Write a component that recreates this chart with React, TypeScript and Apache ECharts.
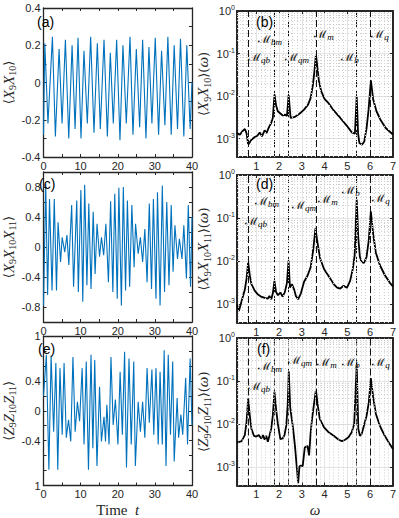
import React, { useEffect, useRef } from 'react';
import * as echarts from 'echarts';

// ---------- time series (t, value) ----------
const SIG_A: [number, number][] = [
  [0, -0.28], [0.35, 0.21], [1.2, -0.22], [2.4, 0.245], [3.2, -0.29], [4.2, 0.18], [5.0, -0.22], [5.9, 0.23],
  [6.8, -0.3], [7.7, 0.2], [8.5, -0.25], [9.3, 0.24], [10.1, -0.3], [10.9, 0.17], [11.8, -0.22], [12.7, 0.245],
  [13.6, -0.27], [14.5, 0.21], [15.3, -0.25], [16.3, 0.23], [17.2, -0.29], [18.0, 0.16], [18.8, -0.22], [19.7, 0.23],
  [20.6, -0.31], [21.4, 0.2], [22.3, -0.22], [23.3, 0.245], [24.1, -0.28], [25.0, 0.18], [25.9, -0.24], [26.7, 0.23],
  [27.6, -0.3], [28.4, 0.19], [29.2, -0.22], [30.1, 0.24], [31.0, -0.28], [31.8, 0.17], [32.7, -0.23], [33.5, 0.245],
  [34.4, -0.28], [35.2, 0.2], [36.1, -0.25], [36.9, 0.235], [37.8, -0.29], [38.6, 0.2], [39.5, -0.25], [40, 0.0],
];

const SIG_C: [number, number][] = [
  [0, -0.78], [0.6, 0.84], [1.11, -0.64], [1.62, 0.64], [2.3, -0.58], [2.9, 0.64], [3.5, -0.58], [3.92, 0.33],
  [4.6, -0.2], [5.03, 0.13], [5.72, -0.07], [6.31, 0.16], [6.82, -0.24], [7.59, 0.56], [8.1, -0.53], [8.96, 0.62],
  [9.38, -0.6], [10.07, 0.76], [10.58, -0.73], [11.09, 0.83], [11.69, -0.51], [12.2, 0.58], [12.8, -0.56], [13.39, 0.47],
  [13.9, -0.36], [14.42, 0.31], [15.1, -0.13], [15.61, 0.13], [16.21, -0.11], [16.8, 0.31], [17.49, -0.47], [18.08, 0.61],
  [18.68, -0.6], [19.19, 0.71], [19.87, -0.69], [20.3, 0.79], [20.98, -0.78], [21.5, 0.8], [22.1, -0.58], [22.6, 0.62],
  [23.2, -0.53], [23.8, 0.56], [24.4, -0.27], [24.8, 0.31], [25.5, -0.09], [26.1, 0.13], [26.7, -0.2], [27.3, 0.24],
  [27.9, -0.47], [28.5, 0.58], [29.1, -0.56], [29.6, 0.64], [30.3, -0.69], [30.7, 0.73], [31.4, -0.78], [32.0, 0.82],
  [32.6, -0.6], [33.2, 0.6], [33.8, -0.51], [34.4, 0.56], [34.9, -0.33], [35.4, 0.29], [36.1, -0.16], [36.6, 0.11],
  [37.3, -0.16], [37.8, 0.29], [38.5, -0.42], [39.0, 0.56], [39.6, -0.53], [40, 0.4],
];

const SIG_E: [number, number][] = [
  [0, 0.2], [0.77, 0.75], [1.45, -0.79], [2.05, 0.74], [2.73, -0.28], [3.33, 0.64], [3.84, -0.79], [4.44, 0.57],
  [5.03, -0.32], [5.54, 0.64], [6.14, -0.36], [6.74, -0.12], [7.34, -0.41], [7.93, 0.72], [8.53, -0.28], [9.13, 0.12],
  [9.72, -0.14], [10.41, 0.57], [10.92, -0.45], [11.52, 0.66], [12.11, -0.79], [12.8, 0.75], [13.3, -0.5], [13.8, 0.68],
  [14.4, -0.74], [15.1, 0.32], [15.6, -0.41], [16.3, -0.08], [16.7, -0.41], [17.06, 0.08], [17.66, -0.45], [18.17, 0.72],
  [18.77, -0.19], [19.36, 0.15], [20.05, -0.45], [20.64, 0.52], [21.24, -0.32], [21.84, 0.79], [22.35, -0.76], [23.03, 0.7],
  [23.63, -0.45], [24.31, 0.66], [24.74, -0.74], [25.5, 0.12], [26.1, -0.28], [26.7, 0.12], [27.3, -0.36], [27.9, 0.57],
  [28.5, -0.16], [29.2, 0.55], [29.7, -0.32], [30.3, 0.57], [30.9, -0.45], [31.4, 0.52], [32.0, -0.45], [32.5, 0.81],
  [33.0, -0.74], [33.6, 0.75], [34.2, -0.32], [34.8, 0.66], [35.2, -0.68], [36.0, 0.17], [36.4, -0.36], [37.0, -0.05],
  [37.5, -0.32], [38.3, 0.44], [38.8, -0.45], [39.5, 0.7], [40, -0.19],
];

// ---------- spectra (omega, power) ----------
const SPEC_B: [number, number][] = [
  [0.157, 1.35e-3], [0.286, 1.24e-3], [0.387, 1.48e-3], [0.502, 1.68e-3], [0.575, 1.35e-3], [0.647, 7.2e-4],
  [0.791, 9.4e-4], [0.936, 1.09e-3], [1.051, 1.17e-3], [1.152, 1.4e-3], [1.253, 1.13e-3], [1.369, 1.57e-3],
  [1.455, 1.35e-3], [1.542, 1.78e-3], [1.657, 2.33e-3], [1.729, 3.06e-3], [1.802, 0.0109], [1.874, 6.0e-3],
  [1.946, 4.4e-3], [2.062, 3.9e-3], [2.163, 3.5e-3], [2.264, 3.7e-3], [2.35, 3.4e-3], [2.423, 0.0105],
  [2.509, 3.06e-3], [2.668, 3.2e-3], [2.885, 3.8e-3], [3.101, 4.8e-3], [3.275, 6.3e-3], [3.39, 9.1e-3],
  [3.491, 0.0188], [3.563, 0.0425], [3.621, 0.0962], [3.679, 0.051], [3.751, 0.0225], [3.852, 0.0131],
  [3.996, 8.6e-3], [4.184, 6.7e-3], [4.4, 4.6e-3], [4.689, 3.06e-3], [4.978, 2.0e-3], [5.194, 1.4e-3],
  [5.33, 1.3e-3], [5.41, 0.01], [5.47, 1.35e-3], [5.526, 7.9e-4], [5.642, 7.2e-4], [5.743, 8.6e-4],
  [5.844, 1.78e-3], [5.931, 4.8e-3], [6.032, 0.0234], [6.133, 8.3e-3], [6.278, 4.4e-3], [6.465, 2.7e-3],
  [6.682, 1.78e-3], [7.0, 1.25e-3],
];

const SPEC_D: [number, number][] = [
  [0.157, 1.0e-3], [0.24, 7.0e-4], [0.36, 1.2e-3], [0.5, 2.17e-3], [0.575, 3.9e-3], [0.647, 9.5e-3],
  [0.72, 4.6e-3], [0.79, 2.95e-3], [0.94, 2.05e-3], [1.08, 1.69e-3], [1.22, 1.51e-3], [1.37, 1.41e-3],
  [1.51, 1.36e-3], [1.58, 1.57e-3], [1.66, 1.31e-3], [1.73, 1.81e-3], [1.8, 3.5e-3], [1.87, 1.95e-3],
  [1.95, 1.63e-3], [2.06, 1.88e-3], [2.16, 1.51e-3], [2.26, 1.95e-3], [2.35, 3.2e-3], [2.42, 0.0104],
  [2.48, 2.46e-3], [2.57, 2.95e-3], [2.67, 2.17e-3], [2.74, 1.57e-3], [2.84, 1.31e-3], [2.96, 1.81e-3],
  [3.1, 3.35e-3], [3.25, 4.6e-3], [3.39, 7.3e-3], [3.5, 0.018], [3.6, 0.058], [3.68, 0.029], [3.8, 0.0119],
  [3.97, 6.7e-3], [4.11, 5.1e-3], [4.26, 3.9e-3], [4.4, 2.95e-3], [4.55, 2.46e-3], [4.69, 2.33e-3],
  [4.83, 2.7e-3], [4.98, 2.42e-3], [5.12, 3.5e-3], [5.24, 6.7e-3], [5.32, 0.0137], [5.41, 0.27], [5.48, 0.034],
  [5.55, 0.0125], [5.63, 9.5e-3], [5.73, 9.2e-3], [5.84, 0.0125], [5.94, 0.031], [6.03, 0.143], [6.13, 0.044],
  [6.25, 0.0158], [6.42, 8.3e-3], [6.64, 4.8e-3], [6.86, 3.2e-3], [7.0, 2.6e-3],
];

const SPEC_F: [number, number][] = [
  [0.157, 3.7e-3], [0.36, 4.0e-3], [0.5, 5.5e-3], [0.575, 0.011], [0.647, 0.039], [0.72, 0.0153], [0.79, 7.7e-3],
  [0.9, 5.3e-3], [1.0, 5.1e-3], [1.11, 5.5e-3], [1.22, 4.6e-3], [1.3, 5.5e-3], [1.37, 4.3e-3], [1.44, 5.3e-3],
  [1.51, 3.85e-3], [1.58, 5.3e-3], [1.66, 7.9e-3], [1.73, 0.0158], [1.8, 0.056], [1.87, 0.0228], [1.95, 0.01],
  [2.06, 4.45e-3], [2.16, 4.6e-3], [2.24, 5.5e-3], [2.32, 9.2e-3], [2.38, 0.0273], [2.43, 0.167], [2.49, 0.0249],
  [2.55, 0.0145], [2.62, 7.7e-3], [2.7, 3.1e-3], [2.77, 1.14e-3], [2.84, 4.2e-4], [2.9, 1.04e-3], [2.96, 1.08e-3],
  [3.04, 1.04e-3], [3.13, 2.82e-3], [3.25, 3.1e-3], [3.32, 1.86e-3], [3.39, 6.4e-3], [3.46, 0.0145], [3.53, 0.0273],
  [3.62, 0.062], [3.71, 0.0249], [3.79, 0.0132], [3.97, 8.4e-3], [4.18, 6.4e-3], [4.4, 5.3e-3], [4.62, 4.3e-3],
  [4.76, 4.0e-3], [4.9, 4.3e-3], [5.05, 4.9e-3], [5.19, 6.4e-3], [5.3, 0.01], [5.41, 0.24], [5.48, 7.7e-3],
  [5.55, 5.3e-3], [5.63, 5.9e-3], [5.73, 9.2e-3], [5.84, 0.0153], [5.94, 0.0315], [6.03, 0.116], [6.13, 0.043],
  [6.25, 0.0173], [6.42, 9.2e-3], [6.64, 5.3e-3], [6.86, 3.4e-3], [7.0, 2.6e-3],
];

// mode frequencies (dashed vertical lines) and their names
const MODE_FREQS = [0.647, 1.81, 2.42, 3.62, 5.41, 6.0];
const MODE_SUBS = ['qb', 'bm', 'qm', 'm', 'b', 'q'];

const PANEL_TAGS = ['(a)', '(b)', '(c)', '(d)', '(e)', '(f)'];
const X_TIME_RANGE = [0, 40];
const X_OMEGA_RANGE = [0.157, 7];
const Y_LOG_MIN = 3.7e-4;

// ---------- layout & style ----------
const INK = '#262626';
const SANS = "'Liberation Sans', Arial, sans-serif";
const SERIF = "'Liberation Serif', 'DejaVu Serif', serif";
const BLUE = '#0072BD';

const LEFT = { left: 35, width: 157 };
const RIGHT = { left: 237, width: 158 };
const ROWS_L = [{ top: 8, height: 149 }, { top: 172, height: 150 }, { top: 336, height: 150 }];
const ROWS_R = [{ top: 11, height: 146 }, { top: 175, height: 148 }, { top: 338, height: 148 }];

// label positions (pixel centres) for the mode names in each right panel
const MODE_LABEL_POS = [
  [[259, 57], [270, 39], [297, 57], [324, 34], [350, 57], [380, 34]],
  [[256, 221], [267, 201], [304, 205], [328, 199], [351, 190], [381, 198]],
  [[259, 386], [270, 366], [300, 360], [327, 362], [351, 362], [381, 362]],
];
const TAG_POS = [[37, 15], [256, 15], [39, 177], [256, 177], [38, 342], [257, 342]];

const NAME_RICH = {
  a: { fontFamily: "'DejaVu Serif', serif", fontSize: 13, lineHeight: 18, color: INK },
  i: { fontFamily: SERIF, fontStyle: 'italic', fontSize: 15, lineHeight: 18, color: INK },
  s: { fontFamily: SERIF, fontSize: 10, lineHeight: 10, verticalAlign: 'bottom', color: INK },
  r: { fontFamily: SERIF, fontSize: 15, lineHeight: 18, color: INK },
};
const NAMES_L = [
  '{a|⟨}{i|X}{s|9}{i|X}{s|10}{a|⟩}',
  '{a|⟨}{i|X}{s|9}{i|X}{s|10}{i|X}{s|11}{a|⟩}',
  '{a|⟨}{i|Z}{s|9}{i|Z}{s|10}{i|Z}{s|11}{a|⟩}',
];
const NAMES_R = NAMES_L.map((n) => n + '{a|(}{i|ω}{a|)}');

const Y_L_SPECS = [
  { min: -0.4, max: 0.4, interval: 0.1, fmt: (r: number) => (r % 2 === 0 ? String(r / 10) : '') },
  { min: -1, max: 1, interval: 0.2, fmt: (r: number) => ([-8, -4, 0, 4, 8].includes(r) ? String(r / 10) : '') },
  {
    min: -1, max: 1, interval: 0.2,
    fmt: (r: number) => (Math.abs(r) === 10 ? '1' : [-4, 0, 4].includes(r) ? String(r / 10) : ''),
  },
];
const SIGNALS = [SIG_A, SIG_C, SIG_E];
const SPECTRA = [SPEC_B, SPEC_D, SPEC_F];

export default function App() {
  const ref = useRef<HTMLDivElement>(null);

  useEffect(() => {
    if (!ref.current) return;
    const chart = echarts.init(ref.current, undefined, { renderer: 'svg' });

    const tick = { show: true, inside: true, length: 3, lineStyle: { color: INK, width: 1 } };
    const lineL = { show: true, onZero: false, lineStyle: { color: INK, width: 1.3 } };
    const lineR = { show: true, onZero: false, lineStyle: { color: INK, width: 2 } };
    const lab = { color: INK, fontFamily: SANS, fontSize: 11, margin: 3 };

    const grids: any[] = [];
    const xAxes: any[] = [];
    const yAxes: any[] = [];
    const series: any[] = [];

    // minor grid positions for the log panels
    const xMinor: number[] = [];
    for (let k = 1; k < 35; k++) if (k % 5 !== 0) xMinor.push(+(k * 0.2).toFixed(1));
    const yMinor: number[] = [];
    for (let e = -4; e <= -1; e++) for (let m = 2; m <= 9; m++) {
      const v = m * Math.pow(10, e);
      if (v > Y_LOG_MIN) yMinor.push(v);
    }

    for (let r = 0; r < 3; r++) {
      // ----- left: time series -----
      const gL = grids.length;
      grids.push({ left: LEFT.left, width: LEFT.width, top: ROWS_L[r].top, height: ROWS_L[r].height });
      const xb = xAxes.length;
      xAxes.push({
        type: 'value', gridIndex: gL, position: 'bottom', min: X_TIME_RANGE[0], max: X_TIME_RANGE[1], interval: 5,
        axisLine: lineL, axisTick: tick, splitLine: { show: false },
        axisLabel: { ...lab, formatter: (v: number) => (Math.round(v) % 10 === 0 ? String(Math.round(v)) : '') },
        ...(r === 2
          ? { name: '{r|Time}{r|  }{i|t}', nameLocation: 'middle', nameGap: 15, nameTextStyle: { rich: NAME_RICH } }
          : {}),
      });
      xAxes.push({
        type: 'value', gridIndex: gL, position: 'top', min: X_TIME_RANGE[0], max: X_TIME_RANGE[1], interval: 5,
        axisLine: lineL, axisTick: tick, splitLine: { show: false }, axisLabel: { show: false },
      });
      const spec = Y_L_SPECS[r];
      const yl = yAxes.length;
      yAxes.push({
        type: 'value', gridIndex: gL, position: 'left', min: spec.min, max: spec.max, interval: spec.interval,
        axisLine: lineL, axisTick: tick, splitLine: { show: false },
        axisLabel: { ...lab, formatter: (v: number) => spec.fmt(Math.round(v * 10)) },
        name: NAMES_L[r], nameLocation: 'middle', nameGap: 26, nameTextStyle: { rich: NAME_RICH },
      });
      yAxes.push({
        type: 'value', gridIndex: gL, position: 'right', min: spec.min, max: spec.max, interval: spec.interval,
        axisLine: lineL, axisTick: tick, splitLine: { show: false }, axisLabel: { show: false },
      });
      series.push({
        type: 'line', xAxisIndex: xb, yAxisIndex: yl, data: SIGNALS[r], showSymbol: false, symbol: 'none',
        lineStyle: { color: BLUE, width: 1.1 }, clip: true, z: 3,
      });

      // ----- right: spectra -----
      const gR = grids.length;
      grids.push({ left: RIGHT.left, width: RIGHT.width, top: ROWS_R[r].top, height: ROWS_R[r].height });
      const xr = xAxes.length;
      xAxes.push({
        type: 'value', gridIndex: gR, position: 'bottom', min: X_OMEGA_RANGE[0], max: X_OMEGA_RANGE[1],
        minInterval: 1, maxInterval: 1,
        axisLine: lineR, axisTick: tick,
        splitLine: { show: true, lineStyle: { color: '#e4e4e4', width: 1 } },
        axisLabel: {
          ...lab,
          formatter: (v: number) => (Math.abs(v - Math.round(v)) < 1e-6 ? String(Math.round(v)) : ''),
        },
        ...(r === 2 ? { name: '{i|ω}', nameLocation: 'middle', nameGap: 15, nameTextStyle: { rich: NAME_RICH } } : {}),
      });
      xAxes.push({
        type: 'value', gridIndex: gR, position: 'top', min: X_OMEGA_RANGE[0], max: X_OMEGA_RANGE[1],
        minInterval: 1, maxInterval: 1,
        axisLine: lineR, axisTick: tick, splitLine: { show: false }, axisLabel: { show: false },
      });
      const yr = yAxes.length;
      yAxes.push({
        type: 'log', logBase: 10, gridIndex: gR, position: 'left', min: Y_LOG_MIN, max: 1,
        axisLine: lineR, axisTick: tick,
        splitLine: { show: true, lineStyle: { color: '#e4e4e4', width: 1 } },
        axisLabel: {
          ...lab, margin: 2,
          formatter: (v: number) => {
            const l = Math.log10(v);
            const k = Math.round(l);
            if (Math.abs(l - k) > 0.01) return '';
            return '{b|10}{e|' + k + '}';
          },
          rich: {
            b: { fontFamily: SANS, fontSize: 11, lineHeight: 14, color: INK },
            e: { fontFamily: SANS, fontSize: 7, lineHeight: 8, verticalAlign: 'top', color: INK },
          },
        },
        name: NAMES_R[r], nameLocation: 'middle', nameGap: 25, nameTextStyle: { rich: NAME_RICH },
      });
      yAxes.push({
        type: 'log', logBase: 10, gridIndex: gR, position: 'right', min: Y_LOG_MIN, max: 1,
        axisLine: lineR, axisTick: tick, splitLine: { show: false }, axisLabel: { show: false },
      });
      // minor dotted grid
      series.push({
        type: 'line', xAxisIndex: xr, yAxisIndex: yr, data: [], showSymbol: false, symbol: 'none',
        z: 1, silent: true,
        markLine: {
          silent: true, symbol: ['none', 'none'], label: { show: false },
          lineStyle: { color: '#cfcfcf', type: [1, 2], width: 1 },
          data: [...xMinor.map((x) => ({ xAxis: x })), ...yMinor.map((y) => ({ yAxis: y }))],
        },
      });
      // spectrum + mode lines
      series.push({
        type: 'line', xAxisIndex: xr, yAxisIndex: yr, data: SPECTRA[r], showSymbol: false, symbol: 'none',
        lineStyle: { color: '#000', width: 1.8 }, z: 4, clip: true,
        markLine: {
          silent: true, symbol: ['none', 'none'], label: { show: false }, z: 2,
          lineStyle: { color: '#111', type: [7, 3], width: 1 },
          data: MODE_FREQS.map((f) => ({ xAxis: f })),
        },
      });
    }

    const graphics: any[] = [];
    PANEL_TAGS.forEach((t, i) => {
      graphics.push({
        type: 'text', x: TAG_POS[i][0], y: TAG_POS[i][1], z: 10,
        style: { text: t, fill: '#000', font: `14px ${SANS}`, textAlign: 'left', textVerticalAlign: 'top', align: 'left', verticalAlign: 'top' },
      });
    });
    MODE_LABEL_POS.forEach((row) => {
      row.forEach((p, j) => {
        graphics.push({
          type: 'text', x: p[0], y: p[1], z: 10,
          style: {
            text: '{M|ℳ}{s|' + MODE_SUBS[j] + '}',
            fill: '#000',
            rich: {
              M: { fontFamily: "'DejaVu Serif', serif", fontSize: 11, lineHeight: 14, fill: '#000' },
              s: { fontFamily: SERIF, fontStyle: 'italic', fontSize: 9, lineHeight: 9, verticalAlign: 'bottom', fill: '#000' },
            },
            textAlign: 'center', textVerticalAlign: 'middle', align: 'center', verticalAlign: 'middle',
          },
        });
      });
    });

    chart.setOption({
      animation: false,
      backgroundColor: '#fff',
      grid: grids,
      xAxis: xAxes,
      yAxis: yAxes,
      series,
      graphic: graphics,
    });
    return () => chart.dispose();
  }, []);

  return <div ref={ref} style={{ position: 'absolute', left: 0, top: 0, width: 399, height: 518 }} />;
}
